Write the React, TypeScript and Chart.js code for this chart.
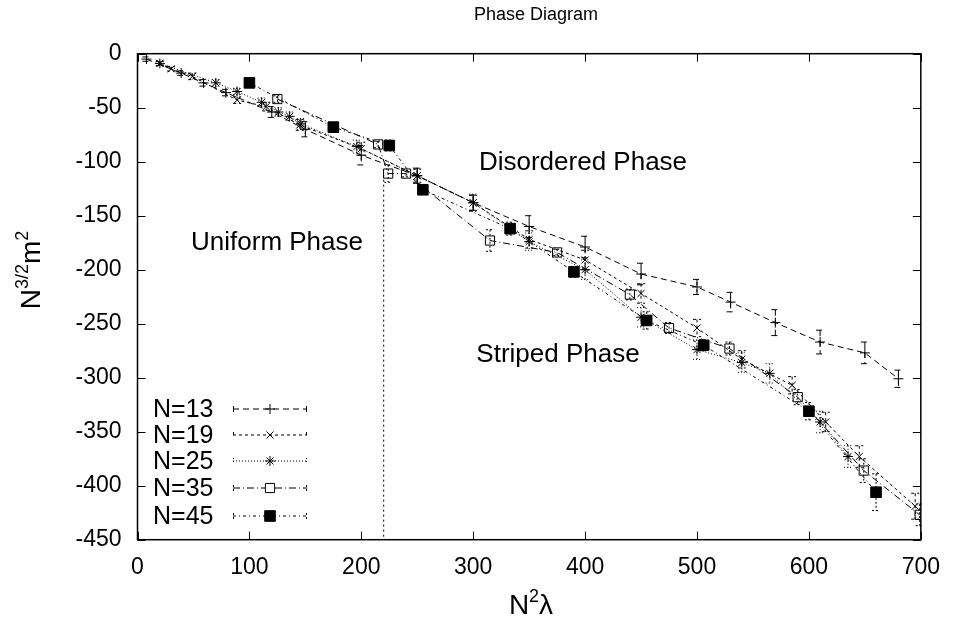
import React, { useEffect, useRef } from "react";
import { Chart, registerables } from "chart.js";
import { drawPoint } from "chart.js/helpers";

Chart.register(...registerables);

const FONT = "'Liberation Sans', Arial, Helvetica, sans-serif";

// ---- data ----
const xTicks = [0, 100, 200, 300, 400, 500, 600, 700];
const yTicks = [0, -50, -100, -150, -200, -250, -300, -350, -400, -450];

const n13X = [8, 39, 59, 79, 120, 150, 200, 250, 300, 350, 400, 450, 500, 530, 570, 610, 650, 680];
const n13Y = [-5, -18, -27, -36, -54, -70, -94, -113, -138, -160, -179, -204, -216, -230, -249, -267, -277, -301];
const n13E = [2, 2, 3, 3, 5, 7, 9, 7, 7, 10, 10, 10, 7, 9, 12, 11, 10, 8];

const n19X = [20, 30, 49, 89, 115, 145, 200, 250, 300, 350, 400, 450, 500, 540, 585, 615, 645, 695];
const n19Y = [-9, -14, -21, -43, -49, -66, -88, -113, -138, -172, -191, -222, -254, -283, -307, -341, -373, -419];
const n19E = [2, 2, 3, 3, 4, 5, 6, 6, 7, 8, 9, 9, 8, 8, 8, 9, 10, 12];

const n25X = [20, 70, 89, 111, 126, 136, 146, 196, 250, 300, 350, 400, 450, 500, 540, 565, 610, 635];
const n25Y = [-9, -27, -35, -45, -54, -58, -65, -86, -113, -138, -174, -200, -244, -274, -286, -296, -341, -373];
const n25E = [2, 3, 3, 4, 4, 4, 5, 6, 7, 8, 8, 9, 9, 9, 9, 9, 10, 10];

const n35X = [125, 215, 224, 240, 315, 375, 440, 475, 529, 590, 649, 699];
const n35Y = [-42, -84, -111, -111, -173, -184, -223, -254, -273, -318, -386, -427];
const n35E = [3, 3, 8, 3, 10, 3, 5, 5, 6, 7, 11, 10];

const n45X = [100, 175, 225, 255, 333, 390, 455, 506, 600, 660];
const n45Y = [-27, -68, -85, -126, -162, -202, -247, -270, -331, -406];
const n45E = [2, 3, 5, 3, 6, 5, 8, 5, 8, 17];

const boundaryX = [220, 220];
const boundaryY = [-112, -450];

const labels = ["N=13", "N=19", "N=25", "N=35", "N=45"];

type S = {
  label: string; x: number[]; y: number[]; err: number[];
  style: string; radius: number; dash: number[]; filled: boolean;
};

const SERIES: S[] = [
  { label: labels[0], x: n13X, y: n13Y, err: n13E, style: "cross", radius: 5, dash: [6, 4], filled: false },
  { label: labels[1], x: n19X, y: n19Y, err: n19E, style: "crossRot", radius: 5, dash: [3, 3], filled: false },
  { label: labels[2], x: n25X, y: n25Y, err: n25E, style: "star", radius: 5, dash: [1, 2], filled: false },
  { label: labels[3], x: n35X, y: n35Y, err: n35E, style: "rect", radius: 6.5, dash: [7, 3, 1, 3], filled: false },
  { label: labels[4], x: n45X, y: n45Y, err: n45E, style: "rect", radius: 7.5, dash: [3, 3, 1, 3], filled: true },
];

function superText(ctx: CanvasRenderingContext2D, parts: [string, boolean][], cx: number, cy: number, big: number, small: number) {
  let w = 0;
  parts.forEach(([t, sup]) => {
    ctx.font = `${sup ? small : big}px ${FONT}`;
    w += ctx.measureText(t).width;
  });
  let x = cx - w / 2;
  ctx.textAlign = "left";
  ctx.textBaseline = "alphabetic";
  parts.forEach(([t, sup]) => {
    ctx.font = `${sup ? small : big}px ${FONT}`;
    ctx.fillText(t, x, sup ? cy - big * 0.42 : cy);
    x += ctx.measureText(t).width;
  });
}

const decor = {
  id: "decor",
  beforeDatasetsDraw(chart: any) {
    const { ctx, scales } = chart;
    const xs = scales.x, ys = scales.y;
    ctx.save();
    ctx.strokeStyle = "#000";
    ctx.lineWidth = 1;
    SERIES.forEach((s) => {
      ctx.setLineDash(s.dash.length > 2 ? [2, 2] : s.dash);
      s.x.forEach((xv, i) => {
        const px = xs.getPixelForValue(xv);
        const t = ys.getPixelForValue(s.y[i] + s.err[i]);
        const b = ys.getPixelForValue(s.y[i] - s.err[i]);
        ctx.beginPath();
        ctx.moveTo(px, t); ctx.lineTo(px, b);
        ctx.moveTo(px - 4, t); ctx.lineTo(px + 4, t);
        ctx.moveTo(px - 4, b); ctx.lineTo(px + 4, b);
        ctx.stroke();
      });
    });
    ctx.restore();
  },
  afterDraw(chart: any) {
    const { ctx, chartArea: a, scales } = chart;
    const xs = scales.x, ys = scales.y;
    ctx.save();
    ctx.strokeStyle = "#000";
    ctx.setLineDash([]);
    ctx.lineWidth = 1.5;
    ctx.strokeRect(a.left, a.top, a.right - a.left, a.bottom - a.top);
    ctx.lineWidth = 1;
    ctx.beginPath();
    xTicks.forEach((v) => {
      const px = Math.round(xs.getPixelForValue(v)) + 0.5;
      ctx.moveTo(px, a.bottom); ctx.lineTo(px, a.bottom - 8);
      ctx.moveTo(px, a.top); ctx.lineTo(px, a.top + 8);
    });
    yTicks.forEach((v) => {
      const py = Math.round(ys.getPixelForValue(v)) + 0.5;
      ctx.moveTo(a.left, py); ctx.lineTo(a.left + 8, py);
      ctx.moveTo(a.right, py); ctx.lineTo(a.right - 8, py);
    });
    ctx.stroke();

    ctx.fillStyle = "#000";
    ctx.font = `18px ${FONT}`;
    ctx.textAlign = "center";
    ctx.textBaseline = "middle";
    ctx.fillText("Phase Diagram", 536, 15);

    ctx.font = `26px ${FONT}`;
    ctx.fillText("Disordered Phase", 583, 163);
    ctx.fillText("Uniform Phase", 277, 243);
    ctx.fillText("Striped Phase", 558, 355);

    superText(ctx, [["N", false], ["2", true], ["λ", false]], 531, 614, 28, 18);
    ctx.save();
    ctx.translate(40, 270);
    ctx.rotate(-Math.PI / 2);
    superText(ctx, [["N", false], ["3/2", true], ["m", false], ["2", true]], 0, 0, 28, 18);
    ctx.restore();

    const rows = [409, 435, 461, 488, 516];
    SERIES.forEach((s, i) => {
      const y = rows[i];
      ctx.fillStyle = "#000";
      ctx.font = `25px ${FONT}`;
      ctx.textAlign = "left";
      ctx.textBaseline = "middle";
      ctx.fillText(s.label, 153, y + 1);
      ctx.lineWidth = 1;
      ctx.setLineDash(s.dash);
      ctx.beginPath();
      ctx.moveTo(233, y); ctx.lineTo(307, y);
      ctx.stroke();
      ctx.setLineDash(s.dash.length > 2 ? [2, 2] : s.dash);
      ctx.beginPath();
      ctx.moveTo(233.5, y - 3); ctx.lineTo(233.5, y + 3);
      ctx.moveTo(306.5, y - 3); ctx.lineTo(306.5, y + 3);
      ctx.stroke();
      ctx.setLineDash([]);
      ctx.fillStyle = s.filled ? "#000" : "#fff";
      drawPoint(ctx, { pointStyle: s.style as any, radius: s.radius, borderWidth: 1, rotation: 0 }, 270, y);
    });
    ctx.restore();
  },
};

export default function App() {
  const ref = useRef<HTMLCanvasElement>(null);
  useEffect(() => {
    if (!ref.current) return;
    const datasets: any[] = SERIES.map((s) => ({
      label: s.label,
      data: s.x.map((xv, i) => ({ x: xv, y: s.y[i] })),
      showLine: true,
      borderColor: "#000",
      borderWidth: 1,
      borderDash: s.dash,
      backgroundColor: s.filled ? "#000" : "rgba(0,0,0,0)",
      pointBackgroundColor: s.filled ? "#000" : "rgba(0,0,0,0)",
      pointBorderColor: "#000",
      pointBorderWidth: 1,
      pointStyle: s.style,
      pointRadius: s.radius,
      tension: 0,
      fill: false,
    }));
    datasets.push({
      label: "boundary",
      data: boundaryX.map((xv, i) => ({ x: xv, y: boundaryY[i] })),
      showLine: true,
      borderColor: "#000",
      borderWidth: 1,
      borderDash: [2, 3],
      pointRadius: 0,
      fill: false,
    });
    const chart = new Chart(ref.current, {
      type: "scatter",
      data: { datasets },
      plugins: [decor],
      options: {
        animation: false,
        responsive: false,
        devicePixelRatio: 1,
        layout: { padding: { left: 0, right: 29, top: 53.7, bottom: 0 } },
        plugins: { legend: { display: false }, tooltip: { enabled: false }, title: { display: false } },
        scales: {
          x: {
            type: "linear",
            min: 0,
            max: 700,
            afterBuildTicks: (sc: any) => { sc.ticks = xTicks.map((v) => ({ value: v })); },
            afterFit: (sc: any) => { sc.height = 86.3; },
            grid: { display: false, drawTicks: false },
            border: { display: false },
            ticks: { color: "#000", font: { family: FONT, size: 23 }, padding: 14, maxRotation: 0 },
          },
          y: {
            type: "linear",
            min: -450,
            max: 0,
            afterBuildTicks: (sc: any) => { sc.ticks = yTicks.map((v) => ({ value: v })); },
            afterFit: (sc: any) => { sc.width = 137.5; },
            grid: { display: false, drawTicks: false },
            border: { display: false },
            ticks: { color: "#000", font: { family: FONT, size: 23 }, padding: 16 },
          },
        },
      },
    });
    return () => chart.destroy();
  }, []);
  return (
    <div style={{ position: "fixed", left: 0, top: 0, width: 954, height: 626, background: "#fff" }}>
      <canvas ref={ref} width={954} height={626} style={{ width: 954, height: 626, display: "block" }} />
    </div>
  );
}
